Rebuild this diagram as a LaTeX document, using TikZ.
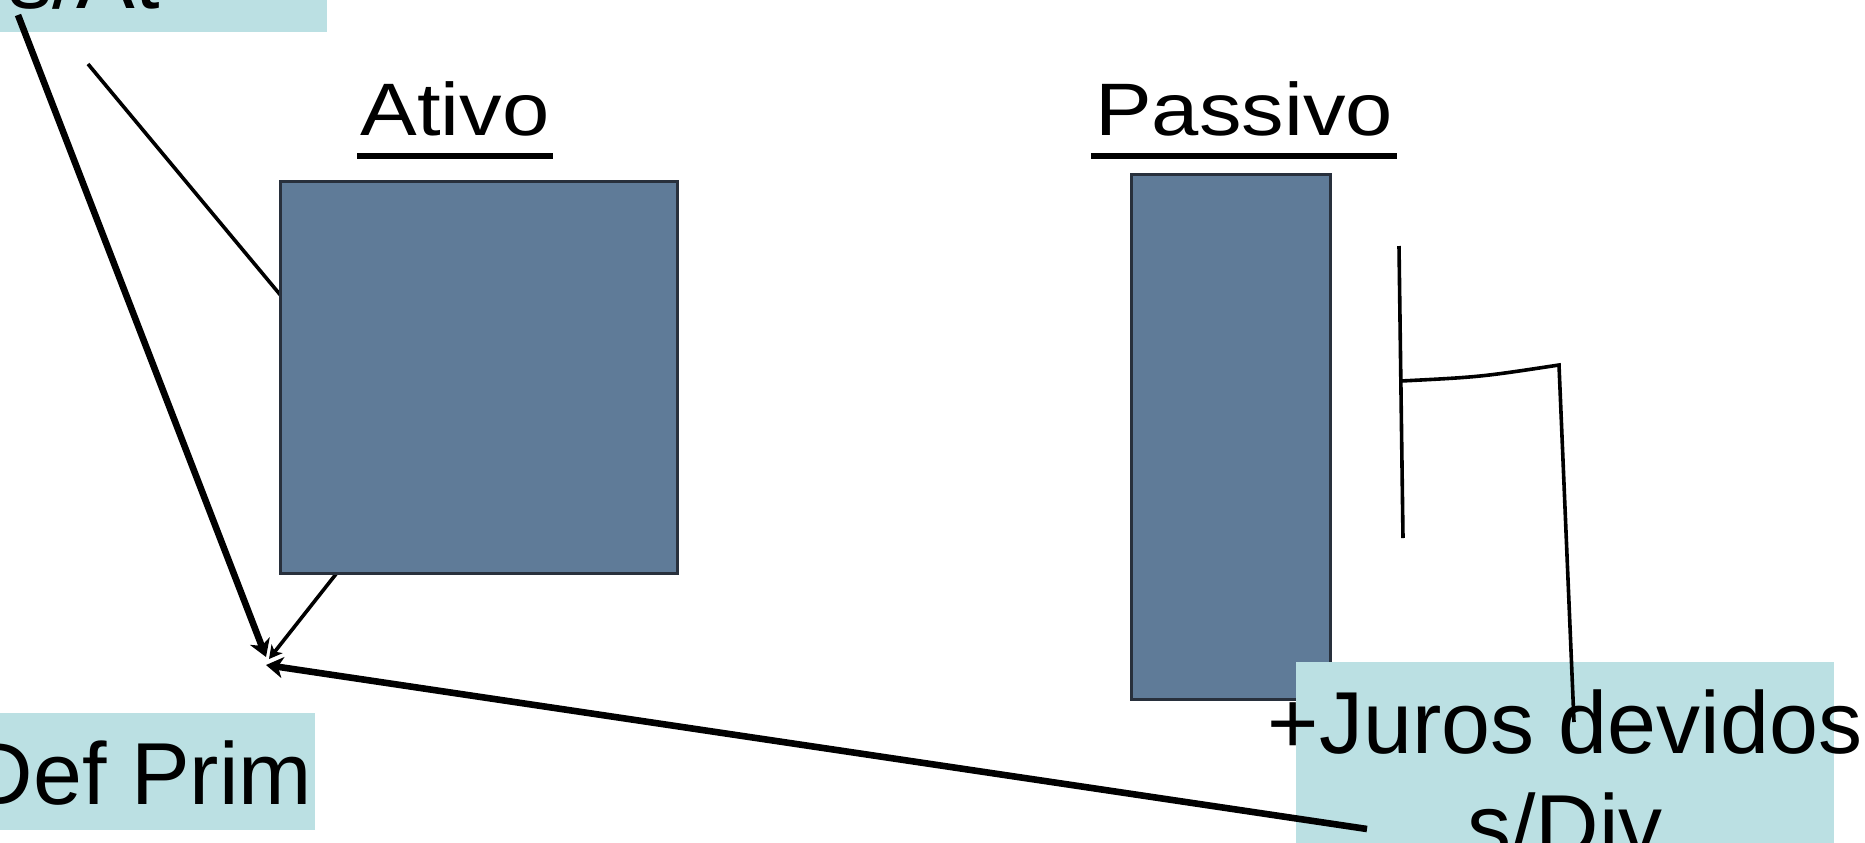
\documentclass[tikz,border=0pt]{standalone}
\usepackage{fontspec}
\setmainfont{Liberation Sans}
\usepackage{graphicx}
\usetikzlibrary{arrows.meta}
\definecolor{slate}{RGB}{95,123,152}
\definecolor{slateedge}{RGB}{40,48,60}
\definecolor{paleteal}{RGB}{187,224,227}
\tikzset{
  panel/.style={fill=slate, draw=slateedge, line width=1.5pt, inner sep=0pt},
  lbox/.style={fill=paleteal, inner sep=0pt},
  bigtext/.style={font=\fontsize{44}{51.5}\selectfont, inner sep=0pt, anchor=base},
  headtext/.style={font=\fontsize{42.5}{50}\selectfont, inner sep=0pt, anchor=base},
  heavy/.style={line width=3.3pt},
  light/.style={line width=1.8pt},
  uline/.style={line width=2.9pt},
  bighead/.style={-{Stealth[length=8.5pt,width=10.5pt,inset=2.5pt]}},
  smallhead/.style={-{Stealth[length=6.5pt,width=7pt,inset=1.8pt]}}
}
\begin{document}
\begin{tikzpicture}[x=0.5pt,y=-0.5pt]
\clip (0,0) rectangle (1865,842);
\fill[white] (0,0) rectangle (1865,842);

% top-left label box (partly outside the frame)
\node[lbox, minimum width=243pt, minimum height=66pt] (atbox) at (84,-34) {};
\node[bigtext] (attext) at (84,8) {s/At};

% Def Prim
\node[lbox, minimum width=174pt, minimum height=58.5pt] (defbox) at (141,771.5) {};
\node[bigtext] (deftext) at (141,804) {Def Prim};

% thin connector passing behind the Ativo panel
\coordinate (thinstart) at (88,64);
\coordinate (thinbend) at (422,465);
\coordinate (tipB) at (269,659);
\draw[light, smallhead] (thinstart) -- (thinbend) -- (tipB);

% panels
\node[panel, minimum width=198.5pt, minimum height=196pt] (ativo) at (478.5,377) {};
\node[panel, minimum width=99.5pt, minimum height=262.5pt] (passivo) at (1230.5,436.5) {};

% titles
\node[headtext] (ativot) at (455,135) {\scalebox{1}[0.875]{Ativo}};
\node[headtext] (passivot) at (1244,135) {\scalebox{1}[0.875]{Passivo}};
\draw[uline] ([xshift=-1.5pt,yshift=-10.5pt]ativot.base west) -- ([xshift=1.5pt,yshift=-10.5pt]ativot.base east);
\draw[uline] ([xshift=-2pt,yshift=-10.5pt]passivot.base west) -- ([xshift=2pt,yshift=-10.5pt]passivot.base east);

% Juros box
\node[lbox, minimum width=269pt, minimum height=111pt] (jurbox) at (1565,773) {};
\node[bigtext] (jurtext) at (1565,753) {\begin{tabular}[t]{@{}c@{}}+Juros devidos\\s/Div\end{tabular}};

% arrows converging
\coordinate (sA) at (18,15);
\coordinate (tipA) at (266,657);
\coordinate (sC) at (1367,829);
\coordinate (tipC) at (266,665);
\draw[heavy, bighead] (sA) -- (tipA);
\draw[heavy, bighead] (sC) -- (tipC);

% bracket lines on the right
\coordinate (hTop) at (1399,246);
\coordinate (hBot) at (1403,538);
\coordinate (hMid) at (1401,381);
\coordinate (hCorner) at (1559,365);
\coordinate (hEnd) at (1574,722);
\draw[light] (hTop) -- (hBot);
\draw[light, line join=miter] (hMid) .. controls (1480,377) .. (hCorner) -- (hEnd);
\end{tikzpicture}
\end{document}
